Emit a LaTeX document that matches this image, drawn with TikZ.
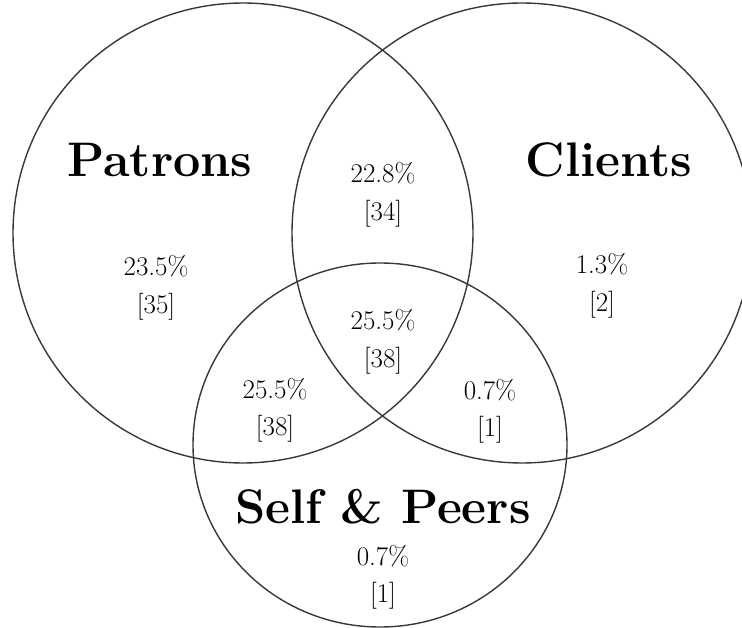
\documentclass[tikz,border=0pt]{standalone}
\begin{document}
\begin{tikzpicture}[x=1pt,y=-1pt,
  setline/.style={draw=black!78,line width=1.4pt},
  setname/.style={font=\fontsize{48.5}{52}\selectfont\bfseries,anchor=center},
  share/.style={font=\fontsize{27}{37.5}\selectfont,align=center,anchor=center}]
\useasboundingbox (0,0) rectangle (742,628);
% the three sets
\draw[setline] (243,233) circle[radius=230];
\draw[setline] (522,233) circle[radius=230];
\draw[setline] (380,445) ellipse[x radius=187,y radius=182];
% set names
\node[setname] (patrons) at (160,160) {Patrons};
\node[setname] (clients) at (609,160) {Clients};
\node[setname] (selfpeers) at (383,507) {Self \& Peers};
% shares of each region
\node[share] (pc)  at (383,195) {22.8\%\\{}[34]};
\node[share] (p)   at (156,288) {23.5\%\\{}[35]};
\node[share] (c)   at (602,286) {1.3\%\\{}[2]};
\node[share] (pcs) at (383,342) {25.5\%\\{}[38]};
\node[share] (ps)  at (275,410) {25.5\%\\{}[38]};
\node[share] (cs)  at (490,411) {0.7\%\\{}[1]};
\node[share] (s)   at (383,577) {0.7\%\\{}[1]};
\end{tikzpicture}
\end{document}
